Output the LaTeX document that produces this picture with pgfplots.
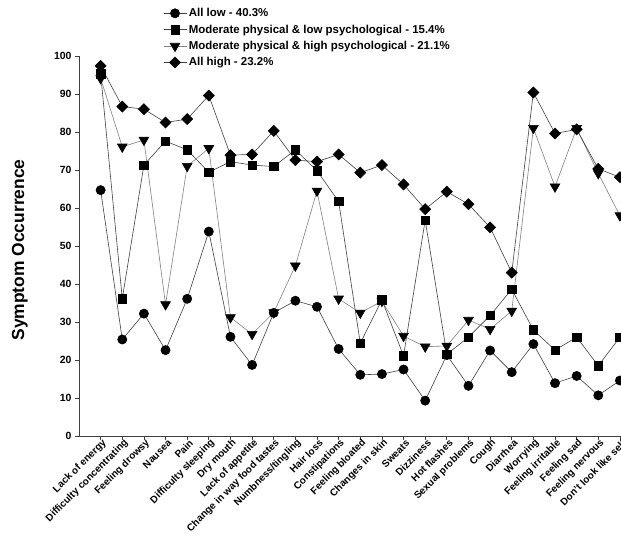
\documentclass[border=0pt]{standalone}
\usepackage{fontspec}
\setmainfont{Liberation Sans}
\usepackage{pgfplots}
\usepackage{pgfplotstable}
\pgfplotsset{compat=1.18}

\pgfplotstableread{
x low modlow modhigh high
0 64.7 95.3 94.1 97.4
1 25.4 36.1 76.1 86.7
2 32.2 71.3 77.9 86.0
3 22.6 77.6 34.6 82.5
4 36.1 75.3 71.0 83.4
5 53.8 69.4 75.7 89.6
6 26.1 72.2 31.2 73.9
7 18.7 71.3 26.8 74.1
8 32.4 70.9 32.5 80.3
9 35.6 75.3 44.8 72.6
10 34.0 69.8 64.5 72.2
11 22.9 61.7 36.1 74.1
12 16.1 24.4 32.4 69.3
13 16.3 35.8 35.5 71.3
14 17.5 21.1 26.3 66.2
15 9.3 56.8 23.5 59.7
16 21.3 21.5 23.7 64.3
17 13.2 26.0 30.5 61.0
18 22.5 31.7 28.1 54.9
19 16.8 38.6 32.9 43.0
20 24.2 27.9 81.0 90.4
21 13.9 22.6 65.6 79.6
22 15.8 26.0 81.0 80.7
23 10.7 18.5 69.1 70.3
24 14.6 26.0 58.0 68.1
}\data

\begin{document}
\begin{tikzpicture}
\begin{axis}[
  name=ax,
  scale only axis,
  width=542bp, height=380bp,
  xmin=-1, xmax=24.05,
  ymin=0, ymax=100,
  axis lines=left,
  axis line style={-, black!75, line width=0.7bp},
  tick style={black!75, line width=0.7bp},
  tick align=outside,
  major tick length=4bp,
  xtick={0,...,24},
  ytick={0,10,...,100},
  xticklabels={Lack of energy, Difficulty concentrating, Feeling drowsy, Nausea, Pain, Difficulty sleeping, Dry mouth, Lack of appetite, Change in way food tastes, Numbness/tingling, Hair loss, Constipations, Feeling bloated, Changes in skin, Sweats, Dizziness, Hot flashes, Sexual problems, Cough, Diarrhea, Worrying, Feeling irritable, Feeling sad, Feeling nervous, Don't look like self},
  xticklabel style={rotate=45, anchor=east, inner sep=0pt, xshift=2bp, yshift=-4bp, font=\bfseries\fontsize{10}{12}\selectfont},
  yticklabel style={font=\bfseries\fontsize{10.5}{12}\selectfont},
  /pgf/number format/assume math mode=true,
  ylabel={Symptom Occurrence},
  every axis y label/.style={at={(rel axis cs:-0.0941,0.4895)}, rotate=90, anchor=south, inner sep=0pt, font=\bfseries\fontsize{17.5}{20}\selectfont},
  legend style={at={(rel axis cs:0.155,1.131)}, anchor=north west, draw=none, fill=none, inner sep=0pt, row sep=2.6bp, font=\bfseries\fontsize{11.5}{13.5}\selectfont},
  legend cell align=left,
  legend image code/.code={\draw[mark repeat=2,mark phase=2,#1] plot coordinates {(0bp,0bp) (11.5bp,0bp) (23bp,0bp)};},
]
\addplot[black!75, line width=0.6bp, mark=*, mark size=4.6bp, mark options={fill=black, draw=black, solid}] table[x=x,y=low] {\data};
\addlegendentry{All low - 40.3\%}
\addplot[black!75, line width=0.6bp, mark=square*, mark size=4.2bp, mark options={fill=black, draw=black, solid}] table[x=x,y=modlow] {\data};
\addlegendentry{Moderate physical \& low psychological - 15.4\%}
\addplot[black!50, line width=0.6bp, mark=triangle*, mark size=5.6bp, mark options={fill=black, draw=black, solid, rotate=180}] table[x=x,y=modhigh] {\data};
\addlegendentry{Moderate physical \& high psychological - 21.1\%}
\addplot[black!75, line width=0.6bp, mark=square*, mark size=3.9bp, mark options={fill=black, draw=black, solid, rotate=45}] table[x=x,y=high] {\data};
\addlegendentry{All high - 23.2\%}
\end{axis}
\pgfresetboundingbox
\path[use as bounding box] ([shift={(-79bp,-100bp)}]ax.south west) rectangle ([shift={(542bp,436bp)}]ax.south west);
\end{tikzpicture}
\end{document}
